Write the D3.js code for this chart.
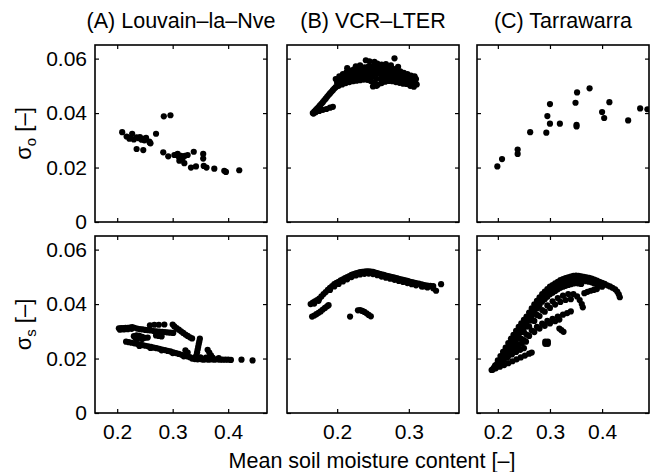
<!DOCTYPE html>
<html><head><meta charset="utf-8">
<script src="https://cdn.jsdelivr.net/npm/d3@7"></script>
<style>body{margin:0;background:#fff}svg{display:block}text{font-family:"Liberation Sans",Arial,Helvetica,sans-serif}</style>
</head><body><svg id="c" width="655" height="472"></svg>
<script>
const titles = ["(A) Louvain\u2013la\u2013Nve", "(B) VCR\u2013LTER", "(C) Tarrawarra"];
const xDomains = [[0.16, 0.47], [0.13, 0.37], [0.16, 0.49]];
const xTicks = [[0.2, 0.3, 0.4], [0.2, 0.3], [0.2, 0.3, 0.4]];
const yDomain = [0, 0.065];
const yTicks = [0, 0.02, 0.04, 0.06];
const xLabel = "Mean soil moisture content [\u2013]";

const louvainO = [[0.209,0.0330],[0.217,0.0314],[0.224,0.0309],[0.227,0.0324],[0.230,0.0303],[0.235,0.0311],[0.239,0.0308],[0.244,0.0302],[0.247,0.0305],[0.252,0.0309],[0.258,0.0295],[0.260,0.0289],[0.270,0.0324],[0.235,0.0268],[0.247,0.0264],[0.284,0.0388],[0.296,0.0392],[0.283,0.0256],[0.292,0.0241],[0.303,0.0246],[0.309,0.0250],[0.311,0.0240],[0.312,0.0225],[0.315,0.0243],[0.318,0.0235],[0.322,0.0243],[0.327,0.0246],[0.321,0.0216],[0.333,0.0200],[0.338,0.0258],[0.342,0.0204],[0.355,0.0250],[0.355,0.0233],[0.356,0.0206],[0.361,0.0200],[0.375,0.0196],[0.393,0.0188],[0.396,0.0184],[0.420,0.0190],[0.222,0.0306],[0.241,0.0312],[0.249,0.0300],[0.306,0.0247],[0.314,0.0236],[0.259,0.0291]];

const vcrO = [[0.166,0.0400],[0.168,0.0405],[0.170,0.0411],[0.172,0.0416],[0.174,0.0422],[0.176,0.0428],[0.178,0.0434],[0.180,0.0440],[0.182,0.0447],[0.184,0.0453],[0.186,0.0460],[0.188,0.0466],[0.190,0.0472],[0.192,0.0478],[0.194,0.0484],[0.196,0.0490],[0.198,0.0495],[0.167,0.0398],[0.170,0.0403],
[0.175,0.0408],[0.180,0.0412],[0.185,0.0415],[0.190,0.0420],[0.194,0.0423],
[0.198,0.0525],[0.203,0.0535],[0.208,0.0543],[0.213,0.0550],[0.218,0.0556],[0.223,0.0560],[0.228,0.0563],[0.233,0.0566],[0.238,0.0568],[0.243,0.0570],[0.248,0.0572],[0.253,0.0573],[0.258,0.0573],[0.263,0.0571],[0.268,0.0568],[0.273,0.0565],[0.278,0.0562],[0.283,0.0558],[0.288,0.0553],[0.293,0.0548],[0.298,0.0543],[0.303,0.0538],[0.308,0.0535],
[0.200,0.0518],[0.206,0.0530],[0.212,0.0538],[0.218,0.0546],[0.224,0.0551],[0.230,0.0555],[0.236,0.0558],[0.242,0.0560],[0.248,0.0561],[0.254,0.0560],[0.260,0.0559],[0.266,0.0558],[0.272,0.0556],[0.278,0.0552],[0.284,0.0548],[0.290,0.0543],[0.296,0.0538],[0.302,0.0533],[0.308,0.0530],
[0.200,0.0510],[0.205,0.0518],[0.210,0.0525],[0.215,0.0530],[0.220,0.0535],[0.225,0.0540],[0.230,0.0543],[0.235,0.0546],[0.240,0.0548],[0.245,0.0549],[0.250,0.0548],[0.255,0.0545],[0.260,0.0544],[0.265,0.0545],[0.270,0.0546],[0.275,0.0544],[0.280,0.0540],[0.285,0.0536],[0.290,0.0532],[0.295,0.0530],[0.300,0.0527],[0.305,0.0524],[0.310,0.0525],
[0.201,0.0505],[0.207,0.0512],[0.213,0.0518],[0.219,0.0524],[0.225,0.0529],[0.231,0.0532],[0.237,0.0535],[0.243,0.0536],[0.249,0.0533],[0.255,0.0526],[0.261,0.0527],[0.267,0.0531],[0.273,0.0532],[0.279,0.0528],[0.285,0.0524],[0.291,0.0520],[0.297,0.0518],[0.303,0.0513],[0.309,0.0512],
[0.202,0.0500],[0.207,0.0505],[0.212,0.0510],[0.217,0.0514],[0.222,0.0517],[0.227,0.0519],[0.232,0.0521],[0.237,0.0523],[0.242,0.0522],[0.247,0.0518],[0.252,0.0512],[0.257,0.0505],[0.262,0.0510],[0.267,0.0515],[0.272,0.0518],[0.277,0.0517],[0.282,0.0514],[0.287,0.0511],[0.292,0.0508],[0.297,0.0507],[0.302,0.0500],[0.307,0.0497],[0.311,0.0505],
[0.240,0.0594],[0.245,0.0590],[0.252,0.0588],[0.256,0.0582],[0.262,0.0578],[0.268,0.0580],[0.275,0.0575],[0.280,0.0601],[0.285,0.0570],[0.226,0.0572],[0.232,0.0575],[0.214,0.0565],[0.250,0.0498],[0.255,0.0500]];

const tarraO = [[0.199,0.0204],[0.208,0.0231],[0.238,0.0266],[0.238,0.0250],[0.262,0.0330],[0.293,0.0328],[0.295,0.0389],[0.300,0.0433],[0.300,0.0361],[0.319,0.0361],[0.349,0.0438],[0.352,0.0476],[0.351,0.0357],[0.351,0.0351],[0.376,0.0491],[0.400,0.0404],[0.404,0.0382],[0.414,0.0440],[0.450,0.0373],[0.473,0.0417],[0.487,0.0414]];

const louvainS = [[0.203,0.0311],[0.207,0.0312],[0.211,0.0312],[0.215,0.0313],[0.219,0.0313],[0.223,0.0314],[0.227,0.0315],[0.231,0.0313],[0.236,0.0310],[0.241,0.0308],[0.246,0.0307],[0.251,0.0305],[0.256,0.0304],[0.261,0.0303],[0.266,0.0301],[0.271,0.0300],[0.276,0.0299],[0.281,0.0298],[0.286,0.0297],[0.291,0.0296],[0.296,0.0295],[0.301,0.0294],
[0.205,0.0306],[0.212,0.0307],[0.219,0.0308],[0.226,0.0309],
[0.303,0.0318],[0.307,0.0312],[0.311,0.0306],[0.315,0.0300],[0.319,0.0294],[0.323,0.0288],[0.327,0.0283],[0.331,0.0278],[0.335,0.0274],
[0.259,0.0322],[0.267,0.0324],[0.275,0.0324],[0.285,0.0325],[0.300,0.0325],
[0.230,0.0282],[0.235,0.0285],[0.240,0.0283],[0.245,0.0280],[0.250,0.0276],[0.238,0.0275],[0.245,0.0272],[0.255,0.0277],[0.233,0.0275],[0.270,0.0285],[0.275,0.0283],[0.280,0.0281],
[0.216,0.0262],[0.221,0.0260],[0.226,0.0258],[0.231,0.0256],[0.236,0.0254],[0.241,0.0252],[0.246,0.0249],[0.251,0.0247],[0.256,0.0245],[0.261,0.0243],[0.266,0.0240],[0.271,0.0238],[0.276,0.0236],[0.281,0.0233],[0.286,0.0231],[0.291,0.0228],[0.296,0.0226],[0.301,0.0223],[0.306,0.0220],[0.311,0.0217],[0.316,0.0214],[0.321,0.0211],[0.326,0.0208],[0.331,0.0205],
[0.240,0.0246],[0.260,0.0239],[0.280,0.0230],[0.300,0.0220],[0.320,0.0208],
[0.335,0.0200],[0.340,0.0198],[0.345,0.0197],[0.350,0.0198],[0.355,0.0196],[0.360,0.0197],[0.365,0.0196],[0.370,0.0197],[0.375,0.0196],[0.380,0.0197],[0.385,0.0196],[0.390,0.0196],[0.395,0.0196],[0.400,0.0196],[0.405,0.0195],[0.340,0.0204],[0.350,0.0204],[0.360,0.0203],[0.372,0.0203],[0.383,0.0202],
[0.349,0.0273],[0.348,0.0263],[0.347,0.0253],[0.346,0.0243],[0.345,0.0233],[0.344,0.0223],[0.343,0.0213],
[0.323,0.0230],[0.327,0.0222],[0.363,0.0232],[0.366,0.0222],[0.369,0.0212],
[0.424,0.0196],[0.444,0.0193]];

const vcrS = [[0.163,0.0400],[0.166,0.0405],[0.169,0.0410],[0.172,0.0415],[0.175,0.0420],[0.178,0.0428],[0.181,0.0437],[0.184,0.0444],[0.187,0.0452],[0.190,0.0460],[0.193,0.0466],[0.196,0.0473],[0.199,0.0478],[0.202,0.0482],[0.205,0.0487],[0.208,0.0491],[0.211,0.0495],[0.214,0.0499],[0.217,0.0503],[0.220,0.0507],[0.223,0.0510],[0.226,0.0513],[0.229,0.0515],[0.232,0.0517],[0.235,0.0518],[0.238,0.0519],[0.241,0.0520],[0.244,0.0520],[0.247,0.0519],[0.250,0.0518],[0.253,0.0516],[0.256,0.0514],[0.259,0.0511],[0.262,0.0509],[0.265,0.0507],[0.268,0.0505],[0.271,0.0503],[0.274,0.0501],[0.277,0.0499],[0.280,0.0497],[0.283,0.0495],[0.286,0.0493],[0.289,0.0491],[0.292,0.0489],[0.295,0.0487],[0.298,0.0485],[0.301,0.0483],[0.304,0.0481],[0.307,0.0479],[0.310,0.0477],[0.314,0.0475],[0.318,0.0472],[0.322,0.0470],[0.326,0.0468],[0.330,0.0467],[0.334,0.0466],[0.338,0.0449],[0.345,0.0473],[0.320,0.0465],
[0.190,0.0452],[0.196,0.0465],[0.202,0.0474],[0.208,0.0483],[0.214,0.0491],[0.220,0.0499],[0.226,0.0505],[0.232,0.0509],[0.238,0.0511],[0.244,0.0512],[0.250,0.0510],[0.256,0.0506],[0.262,0.0501],[0.268,0.0497],[0.274,0.0493],[0.280,0.0489],[0.286,0.0485],[0.292,0.0481],[0.298,0.0477],[0.304,0.0473],[0.310,0.0469],[0.318,0.0465],[0.326,0.0461],[0.334,0.0458],
[0.168,0.0402],[0.174,0.0412],
[0.165,0.0354],[0.168,0.0358],[0.171,0.0363],[0.174,0.0368],[0.177,0.0373],[0.180,0.0380],[0.183,0.0386],[0.186,0.0392],[0.188,0.0396],
[0.218,0.0354],[0.229,0.0377],[0.232,0.0378],[0.235,0.0375],[0.238,0.0371],[0.241,0.0366],[0.244,0.0360],[0.247,0.0355]];

const tarraS = [
[0.188,0.0158],[0.190,0.0159],[0.195,0.0175],[0.200,0.0193],[0.205,0.0209],[0.210,0.0225],[0.215,0.0240],[0.220,0.0257],[0.225,0.0273],[0.230,0.0287],[0.235,0.0302],[0.240,0.0316],[0.245,0.0329],[0.250,0.0342],[0.255,0.0354],[0.260,0.0369],[0.265,0.0384],[0.270,0.0399],[0.275,0.0412],[0.280,0.0425],[0.285,0.0437],[0.290,0.0446],[0.295,0.0455],[0.300,0.0464],[0.305,0.0470],[0.310,0.0476],[0.315,0.0482],[0.320,0.0488],[0.325,0.0492],[0.330,0.0495],[0.335,0.0498],[0.340,0.0501],[0.345,0.0504],[0.350,0.0505],[0.355,0.0504],[0.360,0.0502],[0.365,0.0500],[0.370,0.0498],[0.375,0.0496],[0.380,0.0494],[0.385,0.0490],[0.390,0.0486],[0.395,0.0482],[0.400,0.0478],[0.405,0.0474],[0.410,0.0469],[0.415,0.0465],[0.420,0.0460],[0.425,0.0454],[0.429,0.0446],[0.432,0.0436],[0.434,0.0425],
[0.205,0.0195],[0.210,0.0211],[0.215,0.0226],[0.220,0.0243],[0.225,0.0259],[0.230,0.0273],[0.235,0.0288],[0.240,0.0302],[0.245,0.0315],[0.250,0.0328],[0.255,0.0340],[0.260,0.0355],[0.265,0.0370],[0.270,0.0385],[0.275,0.0398],[0.280,0.0411],[0.285,0.0423],[0.290,0.0432],[0.295,0.0441],[0.300,0.0450],[0.305,0.0456],[0.310,0.0462],[0.315,0.0468],[0.320,0.0474],[0.325,0.0478],[0.330,0.0481],[0.335,0.0484],[0.340,0.0487],[0.345,0.0490],[0.350,0.0491],[0.355,0.0490],[0.360,0.0488],[0.365,0.0486],[0.370,0.0484],[0.375,0.0482],[0.380,0.0480],[0.385,0.0476],[0.390,0.0472],[0.395,0.0468],[0.400,0.0464],
[0.215,0.0212],[0.220,0.0229],[0.225,0.0245],[0.230,0.0259],[0.235,0.0274],[0.240,0.0288],[0.245,0.0301],[0.250,0.0314],[0.255,0.0326],[0.260,0.0341],[0.265,0.0356],[0.270,0.0371],[0.275,0.0384],[0.280,0.0397],[0.285,0.0409],[0.290,0.0418],[0.295,0.0427],[0.300,0.0436],[0.305,0.0442],[0.310,0.0448],[0.315,0.0454],[0.320,0.0460],[0.325,0.0464],[0.330,0.0467],[0.335,0.0470],[0.340,0.0473],[0.345,0.0476],[0.350,0.0477],[0.355,0.0476],[0.360,0.0474],
[0.366,0.0440],[0.372,0.0445],[0.378,0.0449],[0.384,0.0452],[0.390,0.0455],
[0.215,0.0232],[0.225,0.0253],[0.235,0.0275],[0.245,0.0297],[0.255,0.0318],[0.265,0.0340],[0.275,0.0360],[0.285,0.0378],[0.295,0.0395],[0.305,0.0410],[0.315,0.0422],[0.325,0.0431],[0.335,0.0437],[0.345,0.0437],[0.352,0.0428],[0.357,0.0415],[0.361,0.0400],[0.363,0.0388],
[0.220,0.0232],[0.230,0.0254],[0.240,0.0276],[0.250,0.0297],[0.260,0.0318],[0.270,0.0338],[0.280,0.0356],[0.290,0.0372],[0.300,0.0386],[0.310,0.0398],[0.320,0.0408],[0.330,0.0415],[0.340,0.0418],
[0.225,0.0238],[0.235,0.0256],[0.245,0.0272],[0.255,0.0288],[0.265,0.0303],[0.275,0.0316],[0.285,0.0328],[0.295,0.0338],[0.305,0.0346],[0.315,0.0354],[0.325,0.0361],[0.333,0.0367],[0.340,0.0373],
[0.230,0.0235],[0.240,0.0252],[0.250,0.0268],[0.260,0.0283],[0.270,0.0297],[0.280,0.0310],[0.290,0.0320],[0.300,0.0329],[0.310,0.0337],[0.318,0.0343],
[0.318,0.0310],[0.322,0.0304],[0.326,0.0298],
[0.196,0.0164],[0.204,0.0170],[0.212,0.0176],[0.220,0.0183],[0.228,0.0190],[0.236,0.0197],[0.244,0.0204],[0.252,0.0211],[0.260,0.0218],[0.265,0.0222],
[0.195,0.0172],[0.203,0.0183],[0.211,0.0194],[0.219,0.0205],[0.227,0.0215],[0.235,0.0224],[0.243,0.0232],[0.250,0.0238],
[0.200,0.0182],[0.208,0.0195],[0.216,0.0208],[0.224,0.0222],[0.232,0.0236],
[0.198,0.0178],[0.206,0.0190],[0.214,0.0203],[0.222,0.0215],[0.230,0.0226],[0.238,0.0240],[0.246,0.0255],[0.254,0.0262],[0.210,0.0205],[0.218,0.0220],[0.226,0.0230],[0.236,0.0245],[0.192,0.0166],[0.200,0.0186],[0.208,0.0203],[0.212,0.0218],[0.218,0.0232],
[0.291,0.0262],[0.296,0.0262],[0.291,0.0254],[0.296,0.0254],[0.2935,0.0258]];

const series = [[louvainO, vcrO, tarraO], [louvainS, vcrS, tarraS]];
const yLabels = [["\u03C3","o"], ["\u03C3","s"]];

const svg = d3.select("#c");
const lefts = [95, 287, 477], pw = 172;
const tops = [45, 236], ph = 177;
const y = d3.scaleLinear().domain(yDomain);
const FS = 21;

tops.forEach((t, r) => {
  lefts.forEach((l, c) => {
    const x = d3.scaleLinear().domain(xDomains[c]).range([l, l + pw]);
    const yy = y.copy().range([t + ph, t]);
    const g = svg.append("g");
    const cid = "clip" + r + c;
    svg.append("clipPath").attr("id", cid).append("rect").attr("x", l).attr("y", t).attr("width", pw).attr("height", ph);
    g.append("g").attr("clip-path", `url(#${cid})`).selectAll("circle").data(series[r][c]).join("circle")
      .attr("cx", d => x(d[0])).attr("cy", d => yy(d[1])).attr("r", 3.1).attr("fill", "#000");
    const fmt = d => d === 0 ? "0" : d3.format(".2f")(d);
    const ax = (a) => a.tickSizeInner(-4).tickSizeOuter(0);
    const gb = g.append("g").attr("transform", `translate(0,${t + ph})`)
      .call(ax(d3.axisBottom(x).tickValues(xTicks[c])).tickPadding(11).tickFormat(r === 1 ? d3.format(".1f") : ""));
    const gt = g.append("g").attr("transform", `translate(0,${t})`)
      .call(ax(d3.axisTop(x).tickValues(xTicks[c])).tickFormat(""));
    const gl = g.append("g").attr("transform", `translate(${l},0)`)
      .call(ax(d3.axisLeft(yy).tickValues(yTicks)).tickPadding(8).tickFormat(c === 0 ? fmt : ""));
    const gr = g.append("g").attr("transform", `translate(${l + pw},0)`)
      .call(ax(d3.axisRight(yy).tickValues(yTicks)).tickFormat(""));
    [gb, gt, gl, gr].forEach(a => {
      a.select(".domain").remove();
      a.selectAll("line").attr("stroke", "#000").attr("stroke-width", 1.2);
      a.selectAll("text").attr("font-size", FS).attr("fill", "#000").attr("font-family", '"Liberation Sans",Arial,sans-serif');
    });
    g.append("rect").attr("x", l).attr("y", t).attr("width", pw).attr("height", ph)
      .attr("fill", "none").attr("stroke", "#000").attr("stroke-width", 1.6);
    if (r === 0) {
      svg.append("text").attr("x", l + pw / 2).attr("y", 28).attr("text-anchor", "middle")
        .attr("font-size", 21.5).text(titles[c]);
    }
  });
  const yl = svg.append("text").attr("transform", `translate(31,${t + ph / 2}) rotate(-90)`)
    .attr("text-anchor", "middle").attr("font-size", 22);
  yl.append("tspan").text(yLabels[r][0]);
  yl.append("tspan").attr("font-size", 15).attr("dy", 5).text(yLabels[r][1]);
  yl.append("tspan").attr("dy", -5).text(" [\u2013]");
});
svg.append("text").attr("x", 372).attr("y", 468).attr("text-anchor", "middle").attr("font-size", 21.5).text(xLabel);
</script></body></html>
